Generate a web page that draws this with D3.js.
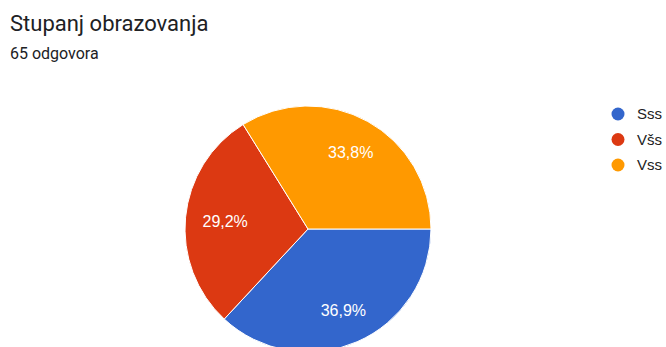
<!DOCTYPE html>
<html>
<head>
<meta charset="utf-8">
<script src="https://cdn.jsdelivr.net/npm/d3@7"></script>
<style>
  html, body { margin: 0; padding: 0; background: #fff; }
  svg { display: block; }
</style>
</head>
<body>
<svg id="chart" width="666" height="347"></svg>
<script>
// Survey answers: education level
const categories = ["Sss", "Všs", "Vss"];
const counts = [24, 19, 22];
const percentLabels = ["36,9%", "29,2%", "33,8%"];
const colors = ["#3366cc", "#dc3912", "#ff9900"];
const title = "Stupanj obrazovanja";
const subtitle = "65 odgovora";

const svg = d3.select("#chart");

svg.append("text")
  .attr("x", 10).attr("y", 31)
  .attr("font-family", "Roboto, 'Open Sans', sans-serif")
  .attr("font-size", 22)
  .attr("fill", "#202124")
  .text(title);

svg.append("text")
  .attr("x", 10).attr("y", 59)
  .attr("font-family", "Roboto, sans-serif")
  .attr("font-size", 16)
  .attr("fill", "#202124")
  .text(subtitle);

const cx = 308, cy = 229, r = 123;

const pie = d3.pie()
  .value(d => d.count)
  .sort(null)
  .startAngle(Math.PI / 2)
  .endAngle(Math.PI / 2 + 2 * Math.PI);

const data = categories.map((c, i) => ({ name: c, count: counts[i], label: percentLabels[i], color: colors[i] }));
const arcs = pie(data);

const arc = d3.arc().innerRadius(0).outerRadius(r);

const g = svg.append("g").attr("transform", `translate(${cx},${cy})`);

g.selectAll("path.slice")
  .data(arcs)
  .join("path")
  .attr("class", "slice")
  .attr("d", arc)
  .attr("fill", d => d.data.color)
  .attr("stroke", "#fff")
  .attr("stroke-width", 1);

// Percentage labels: pulled inward a little when the label sits to the side,
// so wide labels stay well inside the slice.
g.selectAll("text.pct")
  .data(arcs)
  .join("text")
  .attr("class", "pct")
  .attr("text-anchor", "middle")
  .attr("dy", "0.35em")
  .attr("font-family", "Arial, 'Liberation Sans', sans-serif")
  .attr("font-size", 16)
  .attr("fill", "#fff")
  .text(d => d.data.label)
  .attr("transform", function (d) {
    const a = (d.startAngle + d.endAngle) / 2;
    const w = this.getComputedTextLength();
    const rr = 0.75 * r - 0.4 * (w / 2) * Math.abs(Math.sin(a));
    return `translate(${rr * Math.sin(a)},${-rr * Math.cos(a)})`;
  });

// Legend
const legend = svg.append("g");
const ly = d3.scalePoint().domain(categories).range([114, 165]);
categories.forEach((c, i) => {
  legend.append("circle")
    .attr("cx", 618).attr("cy", ly(c)).attr("r", 6.5)
    .attr("fill", colors[i]);
  legend.append("text")
    .attr("x", 637).attr("y", ly(c))
    .attr("dy", "0.36em")
    .attr("font-family", "Arial, 'Liberation Sans', sans-serif")
    .attr("font-size", 15)
    .attr("fill", "#222")
    .text(c);
});
</script>
</body>
</html>
